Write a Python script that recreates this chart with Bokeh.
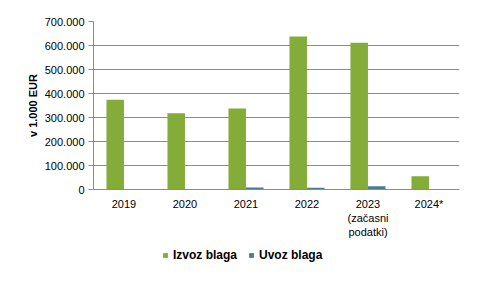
from bokeh.plotting import figure
from bokeh.models import ColumnDataSource, FactorRange, Range1d, FixedTicker, Legend, LegendItem
from bokeh.transform import dodge
from bokeh.layouts import column
from bokeh.embed import file_html
from bokeh.resources import INLINE

categories = ["2019", "2020", "2021", "2022", "2023\n(začasni\npodatki)", "2024*"]
izvoz = [374000, 318000, 337000, 637000, 611000, 55000]
uvoz = [2500, 2500, 8000, 7000, 14000, 0]
y_ticks = [0, 100000, 200000, 300000, 400000, 500000, 600000, 700000]
y_tick_labels = ["0", "100.000", "200.000", "300.000", "400.000", "500.000", "600.000", "700.000"]

GREEN = "#84AC38"
BLUE = "#4F7A90"
font = "Liberation Sans"

src = ColumnDataSource(dict(cat=categories, izvoz=izvoz, uvoz=uvoz))

p = figure(width=481, height=244, x_range=FactorRange(*categories), y_range=Range1d(0, 700000),
           output_backend="svg", toolbar_location=None,
           min_border_left=93, min_border_right=22, min_border_top=21, min_border_bottom=55)
p.outline_line_color = None
p.background_fill_color = "white"
p.border_fill_color = "white"

p.vbar(x=dodge("cat", -0.144, range=p.x_range), top="izvoz", width=0.287, source=src,
       fill_color=GREEN, line_color=None)
p.vbar(x=dodge("cat", 0.144, range=p.x_range), top="uvoz", width=0.287, source=src,
       fill_color=BLUE, line_color=None)

p.xgrid.grid_line_color = None
p.ygrid.grid_line_color = "#8C8C8C"
p.ygrid.grid_line_width = 1

p.yaxis.ticker = FixedTicker(ticks=y_ticks)
p.yaxis.major_label_overrides = {t: l for t, l in zip(y_ticks, y_tick_labels)}
p.yaxis.axis_line_color = "#8C8C8C"
p.yaxis.major_tick_line_color = "#8C8C8C"
p.yaxis.major_tick_out = 5
p.yaxis.major_tick_in = 0
p.yaxis.minor_tick_line_color = None
p.yaxis.major_label_standoff = 4
p.yaxis.major_label_text_font = font
p.yaxis.major_label_text_font_size = "11px"
p.yaxis.major_label_text_color = "black"
p.yaxis.axis_label = "v 1.000 EUR"
p.yaxis.axis_label_text_font = font
p.yaxis.axis_label_text_font_size = "11px"
p.yaxis.axis_label_text_font_style = "bold"
p.yaxis.axis_label_text_color = "black"
p.yaxis.axis_label_standoff = 3

p.xaxis.axis_line_color = "#8C8C8C"
p.xaxis.major_tick_line_color = None
p.xaxis.major_tick_out = 0
p.xaxis.major_tick_in = 0
p.xaxis.major_label_standoff = 8
p.xaxis.major_label_text_font = font
p.xaxis.major_label_text_font_size = "11px"
p.xaxis.major_label_text_color = "black"

# legend strip below the chart (renderers hidden, only used for legend swatches)
p2 = figure(width=481, height=37, x_range=FactorRange(*categories), y_range=Range1d(0, 1),
            output_backend="svg", toolbar_location=None, min_border=0)
p2.axis.visible = False
p2.grid.visible = False
p2.outline_line_color = None
p2.background_fill_color = "white"
p2.border_fill_color = "white"
l1 = p2.vbar(x=dodge("cat", -0.144, range=p2.x_range), top="izvoz", width=0.287, source=src,
             fill_color=GREEN, line_color=None, visible=False)
l2 = p2.vbar(x=dodge("cat", 0.144, range=p2.x_range), top="uvoz", width=0.287, source=src,
             fill_color=BLUE, line_color=None, visible=False)

legend = Legend(items=[LegendItem(label="Izvoz blaga", renderers=[l1]),
                       LegendItem(label="Uvoz blaga", renderers=[l2])],
                orientation="horizontal", location=(69, 19),
                glyph_width=6, glyph_height=6, label_standoff=5, spacing=11,
                padding=0, margin=0, border_line_color=None, background_fill_alpha=0,
                inactive_fill_alpha=0,
                label_text_font=font, label_text_font_size="12px", label_text_font_style="bold",
                label_text_color="black")
p2.add_layout(legend, "center")

layout = column(p, p2, spacing=0)
open("out.html", "w").write(file_html(layout, INLINE))
